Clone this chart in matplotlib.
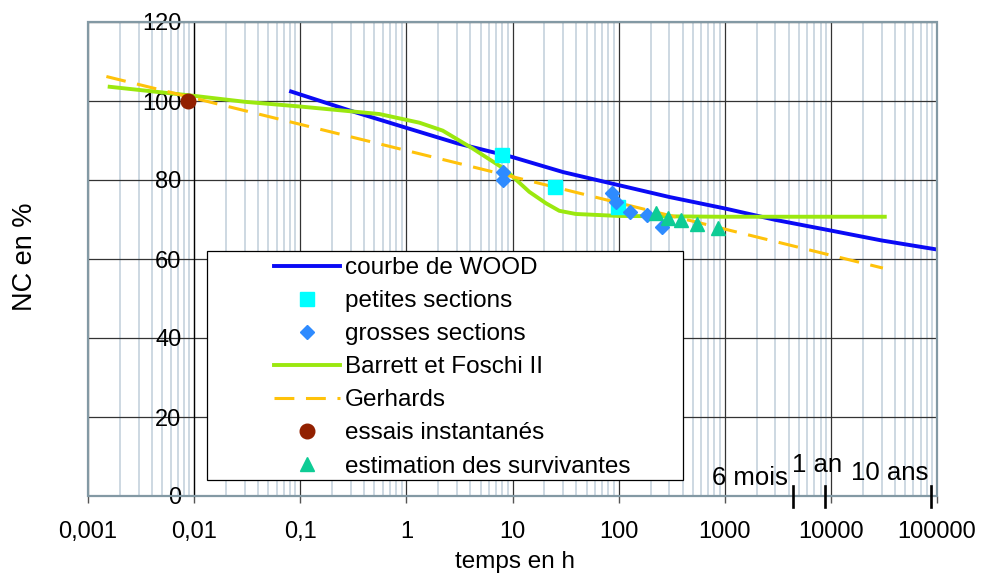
import matplotlib
matplotlib.use("Agg")
from matplotlib import pyplot as plt
from matplotlib.patches import Rectangle
from matplotlib.ticker import LogLocator, NullFormatter
import numpy as np

# courbe de WOOD
wood_t = [0.082, 0.3, 1, 3, 10, 30, 100, 300, 1000, 3000, 10000, 30000, 100000]
wood_nc = [102.4, 97.5, 93.2, 89.3, 85.8, 82.0, 78.7, 75.7, 72.8, 69.9, 67.2, 64.7, 62.4]

# Barrett et Foschi II
bf_t = [0.0016, 0.01, 0.03, 0.1, 0.557, 1.33, 2.2, 4.2, 8.7, 10.1, 14.4, 20.7, 27.6,
        39.5, 100, 888, 32200]
bf_nc = [103.6, 101.3, 99.8, 98.6, 96.7, 94.5, 92.5, 88.0, 82.5, 80.8, 77.0, 74.1,
         72.2, 71.4, 70.9, 70.7, 70.7]

# Gerhards
ger_t = [0.00149, 30900]
ger_nc = [106.2, 57.7]

# petites sections
ps_t = [8.0, 25.3, 97.7]
ps_nc = [86.4, 78.2, 73.2]

# grosses sections
gs_t = [8.1, 8.1, 86.5, 94.3, 128.5, 184.5, 255.6]
gs_nc = [82.1, 80.0, 76.8, 74.5, 72.0, 71.1, 68.2]

# essais instantanés
ei_t = [0.0087]
ei_nc = [100.0]

# estimation des survivantes
es_t = [224, 289, 386, 553, 872]
es_nc = [71.6, 70.5, 69.9, 68.9, 67.8]

# repères de durée
dur_t = [4380, 8760, 87600]

xticks = [0.001, 0.01, 0.1, 1, 10, 100, 1000, 10000, 100000]
xlabels = ["0,001", "0,01", "0,1", "1", "10", "100", "1000", "10000", "100000"]
yticks = [0, 20, 40, 60, 80, 100, 120]

plt.rcParams['font.family'] = ['Liberation Sans', 'DejaVu Sans']

fig = plt.figure(figsize=(9.84, 5.77), dpi=100)
ax = fig.add_axes([88 / 984, 81 / 577, 849 / 984, 474 / 577])
ax.set_xscale('log')
ax.set_xlim(0.001, 100000)
ax.set_ylim(0, 120)

# grilles
ax.set_axisbelow(True)
ax.xaxis.set_minor_locator(LogLocator(base=10, subs=np.arange(2, 10)))
ax.xaxis.set_minor_formatter(NullFormatter())
ax.grid(which='minor', axis='x', color='#c9d6df', linewidth=1.3)
ax.grid(which='major', axis='both', color='#333333', linewidth=0.9)

ax.set_xticks(xticks)
ax.set_xticklabels(xlabels)
ax.set_yticks(yticks)
ax.tick_params(axis='x', which='major', length=5, width=1, color='#555555',
               pad=13, labelsize=17)
ax.tick_params(axis='x', which='minor', length=0)
ax.tick_params(axis='y', length=0, pad=9, labelsize=17)

for s in ['top', 'right', 'bottom']:
    ax.spines[s].set_visible(False)
ax.spines['left'].set_position(('data', 0.01))
ax.spines['left'].set_color('black')
ax.spines['left'].set_linewidth(0.9)
ax.add_patch(Rectangle((0, 0), 1, 1, transform=ax.transAxes, fill=False,
                       edgecolor='#8399a4', linewidth=1.6, clip_on=False, zorder=6))

ax.plot(wood_t, wood_nc, color='#0a0af5', linewidth=2.8, label='courbe de WOOD', zorder=3)
ax.plot(ps_t, ps_nc, linestyle='none', marker='s', markersize=9.5, color='#00ffff',
        label='petites sections', zorder=5)
ax.plot(gs_t, gs_nc, linestyle='none', marker='D', markersize=7, color='#2e8bff',
        label='grosses sections', zorder=5)
ax.plot(bf_t, bf_nc, color='#9be80f', linewidth=2.8, label='Barrett et Foschi II', zorder=3)
ax.plot(ger_t, ger_nc, color='#ffc20a', linewidth=2.2, dashes=(6.5, 3.8),
        label='Gerhards', zorder=3)
ax.plot(ei_t, ei_nc, linestyle='none', marker='o', markersize=10.5, color='#922000',
        label='essais instantanés', zorder=5)
ax.plot(es_t, es_nc, linestyle='none', marker='^', markersize=10, color='#0ecc95',
        label='estimation des survivantes', zorder=5)

# repères 6 mois / 1 an / 10 ans
for t in dur_t:
    ax.plot([t, t], [2.5, -2.8], color='black', linewidth=1.9, clip_on=False, zorder=6)
ax.text(1734, 4.6, "6 mois", fontsize=18.5, ha='center', va='center')
ax.text(7413, 7.9, "1 an", fontsize=18.5, ha='center', va='center')
ax.text(36060, 5.8, "10 ans", fontsize=18.5, ha='center', va='center')

# légende
ax.add_patch(Rectangle((0.140, 0.0338), 0.561, 0.483, transform=ax.transAxes,
                       facecolor='white', edgecolor='black', linewidth=0.9, zorder=7))
leg = ax.legend(loc='upper left', bbox_to_anchor=(0.219, 0.504), frameon=False,
                borderpad=0, borderaxespad=0, fontsize=17.5, handlelength=2.72,
                handletextpad=0.2, labelspacing=0.455, numpoints=1)
leg.set_zorder(8)

fig.text(25 / 984, 1 - 257 / 577, "NC en %", rotation=90, fontsize=19.5,
         ha='center', va='center')
fig.text(515 / 984, 1 - 562 / 577, "temps en h", fontsize=17.5, ha='center', va='center')

fig.savefig("out.png", dpi=100)
